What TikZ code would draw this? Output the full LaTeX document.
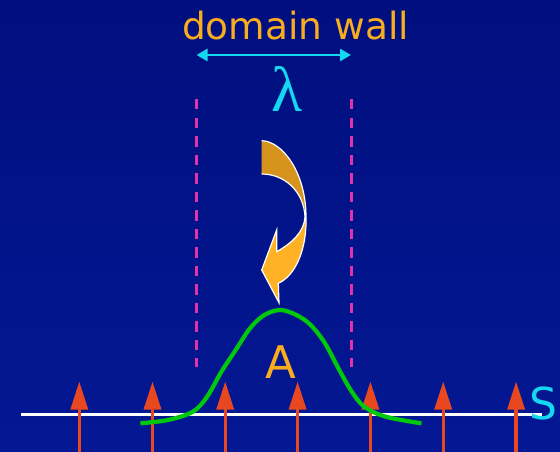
\documentclass[tikz,border=0pt]{standalone}
\usepackage{fontspec}
\setmainfont{DejaVu Sans}
\newfontfamily\lamfont{Liberation Serif}
\usetikzlibrary{arrows.meta}
\definecolor{bgtop}{RGB}{0,15,126}
\definecolor{bgbot}{RGB}{4,24,148}
\definecolor{wallorange}{RGB}{248,172,32}
\definecolor{lamcyan}{RGB}{20,215,240}
\definecolor{dashmag}{RGB}{225,50,170}
\definecolor{spinred}{RGB}{232,72,32}
\definecolor{curvegreen}{RGB}{0,200,10}
\definecolor{arrdark}{RGB}{215,148,28}
\definecolor{arrlight}{RGB}{255,178,38}
\tikzset{
  wallline/.style={dashmag, line width=3pt, dash pattern=on 10.5pt off 8pt},
  widtharrow/.style={lamcyan, line width=2.6pt, {Triangle[length=11pt,width=12pt]}-{Triangle[length=11pt,width=12pt]}},
  spin/.style={spinred, line width=3.3pt, -{Triangle[length=28pt,width=17pt]}},
  baseline/.style={white, line width=2.5pt},
  profile/.style={curvegreen, line width=4.2pt},
  outline/.style={white, line width=1.2pt, line join=miter},
}
\begin{document}
\begin{tikzpicture}[x=1pt,y=-1pt]
\shade[top color=bgtop,bottom color=bgbot] (0,0) rectangle (560,452);
\useasboundingbox (0,0) rectangle (560,452);

% title and width
\node[anchor=base, text=wallorange, font=\fontsize{37.5}{40}\selectfont, inner sep=0pt] (title) at (295.5,40) {domain wall};
\coordinate (wa) at (196.5,55);
\coordinate (wb) at (351,55);
\draw[widtharrow] (wa) -- (wb);
\node[anchor=base, text=lamcyan, font=\lamfont\fontsize{64}{66}\selectfont, inner sep=0pt] (lam) at (287,111) {λ};

% wall boundaries
\coordinate (l1) at (196.7,99);
\coordinate (l2) at (196.7,367);
\coordinate (r1) at (351.5,99);
\coordinate (r2) at (351.5,367);
\draw[wallline] (l1) -- (l2);
\draw[wallline] (r1) -- (r2);

% curved arrow
\fill[arrdark] (261.7,140.7) .. controls (282,141) and (306,172) .. (306,217)
   .. controls (304,192) and (285,174) .. (261.7,174) -- cycle;
\fill[arrlight] (306,217) .. controls (307,250) and (295,276) .. (278.3,283.3)
   -- (279,302.7) -- (261.7,270) -- (276.7,230) -- (276.7,251.7)
   .. controls (292,243) and (304,232) .. (305,217) -- cycle;
\draw[outline] (261.7,140.7) .. controls (282,141) and (306,172) .. (306,217)
   .. controls (307,250) and (295,276) .. (278.3,283.3)
   -- (279,302.7) -- (261.7,270) -- (276.7,230) -- (276.7,251.7)
   .. controls (292,243) and (304,232) .. (305,217)
   .. controls (304,192) and (285,174) .. (261.7,174);

% axis
\coordinate (ax1) at (21,414.5);
\coordinate (ax2) at (542,414.5);
\draw[baseline] (ax1) -- (ax2);

% spins
\foreach \i/\x in {1/79.3,2/152.5,3/225.2,4/297.6,5/370.4,6/443.2,7/516.1}{
  \coordinate (sb\i) at (\x,452);
  \coordinate (st\i) at (\x,381.5);
  \draw[spin] (sb\i) -- (st\i);
}

% profile
\draw[profile] plot[smooth, tension=0.55] coordinates {(140.4,423.3) (167.9,420) (192.9,411.7) (207.1,396.7) (221.4,371.7) (235.7,350) (250,328.3) (264.3,315) (280.4,310) (296.4,315) (310.7,325) (325,343.3) (339.3,370) (351.8,391.7) (364.3,406.7) (385.7,416.7) (421.4,423.3)};

\node[anchor=base, text=wallorange, font=\fontsize{45}{48}\selectfont, inner sep=0pt] (labA) at (281,378) {A};
\node[anchor=base, text=lamcyan, font=\fontsize{44}{48}\selectfont, inner sep=0pt] (labS) at (543,419) {S};
\end{tikzpicture}
\end{document}
